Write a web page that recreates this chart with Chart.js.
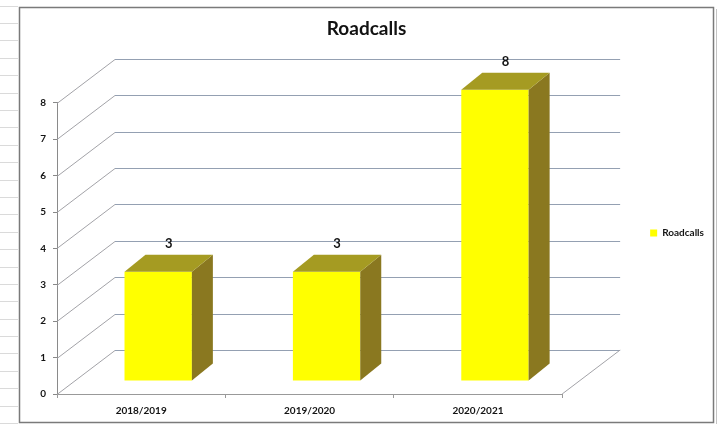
<!DOCTYPE html>
<html>
<head>
<meta charset="utf-8">
<script src="https://cdn.jsdelivr.net/npm/chart.js@4.4.0/dist/chart.umd.min.js"></script>
<style>
  html, body { margin: 0; padding: 0; background: #fff; }
  canvas { display: block; }
</style>
</head>
<body>
<canvas id="chart" width="720" height="425"></canvas>
<script>
const seasons = ['2018/2019', '2019/2020', '2020/2021'];
const roadcalls = [3, 3, 8];
const yTicks = [0, 1, 2, 3, 4, 5, 6, 7, 8];

// offset from the front plane to the back wall
const WALL_DX = 58, WALL_DY = -44;
// bars stand a little behind the front plane and have their own depth
const BAR_DX = 17, BAR_DY = -13;
const SIDE_DX = 21, SIDE_DY = -17;

const FONT = 'Lato';
const TEXT = '#141414';

const box3d = {
  id: 'box3d',
  beforeDraw(chart) {
    const ctx = chart.ctx;
    ctx.save();
    ctx.fillStyle = '#fff';
    ctx.fillRect(0, 0, chart.width, chart.height);
    // worksheet cell lines peeking out left of the chart
    ctx.strokeStyle = '#dadada';
    ctx.lineWidth = 1;
    for (let y = 5.5; y < chart.height; y += 17.4) {
      ctx.beginPath();
      ctx.moveTo(0, Math.round(y) + 0.5);
      ctx.lineTo(18, Math.round(y) + 0.5);
      ctx.stroke();
    }
    // chart frame
    ctx.strokeStyle = '#7a7a7a';
    ctx.lineWidth = 1.5;
    ctx.strokeRect(19.5, 7.5, 694, 415);
    ctx.strokeStyle = '#c4c4c4';
    ctx.lineWidth = 1;
    ctx.beginPath();
    ctx.moveTo(716.5, 9);
    ctx.lineTo(716.5, 424);
    ctx.stroke();
    ctx.restore();
  },
  beforeDatasetsDraw(chart) {
    const {ctx, chartArea: {left, right, bottom}, scales: {y}} = chart;
    ctx.save();
    ctx.lineWidth = 1;
    // side wall diagonals + back wall grid
    yTicks.forEach(v => {
      const py = Math.round(y.getPixelForValue(v)) + 0.5;
      ctx.strokeStyle = '#a3a3a8';
      ctx.beginPath();
      ctx.moveTo(left, py);
      ctx.lineTo(left + WALL_DX, py + WALL_DY);
      ctx.stroke();
      ctx.strokeStyle = '#94a0b2';
      ctx.beginPath();
      ctx.moveTo(left + WALL_DX, py + WALL_DY);
      ctx.lineTo(right + WALL_DX, py + WALL_DY);
      ctx.stroke();
    });
    // floor right edge
    ctx.strokeStyle = '#a3a3a8';
    ctx.beginPath();
    ctx.moveTo(right, bottom);
    ctx.lineTo(right + WALL_DX, bottom + WALL_DY);
    ctx.stroke();
    ctx.restore();
  },
  beforeDatasetDraw(chart) {
    chart.ctx.save();
    chart.ctx.translate(BAR_DX, BAR_DY);
  },
  afterDatasetDraw(chart, args) {
    const ctx = chart.ctx;
    args.meta.data.forEach(bar => {
      const {x, y, base, width} = bar.getProps(['x', 'y', 'base', 'width'], true);
      const l = x - width / 2, r = x + width / 2;
      // right side face
      ctx.fillStyle = '#8a7820';
      ctx.beginPath();
      ctx.moveTo(r, y);
      ctx.lineTo(r + SIDE_DX, y + SIDE_DY);
      ctx.lineTo(r + SIDE_DX, base + SIDE_DY);
      ctx.lineTo(r, base);
      ctx.closePath();
      ctx.fill();
      // top face
      ctx.fillStyle = '#a59b22';
      ctx.beginPath();
      ctx.moveTo(l, y);
      ctx.lineTo(r, y);
      ctx.lineTo(r + SIDE_DX, y + SIDE_DY);
      ctx.lineTo(l + SIDE_DX, y + SIDE_DY);
      ctx.closePath();
      ctx.fill();
    });
    ctx.restore();

    // value labels above each bar
    const values = chart.data.datasets[args.index].data;
    ctx.save();
    ctx.fillStyle = TEXT;
    ctx.font = `bold 13px ${FONT}`;
    ctx.textAlign = 'center';
    ctx.textBaseline = 'middle';
    args.meta.data.forEach((bar, i) => {
      const {x, y} = bar.getProps(['x', 'y'], true);
      ctx.fillText(String(values[i]), x + BAR_DX + SIDE_DX / 2, y + BAR_DY + SIDE_DY - 11);
    });
    ctx.restore();
  }
};

new Chart(document.getElementById('chart'), {
  type: 'bar',
  data: {
    labels: seasons,
    datasets: [{
      label: 'Roadcalls',
      data: roadcalls,
      backgroundColor: '#ffff00',
      borderWidth: 0,
      categoryPercentage: 1,
      barPercentage: 0.4,
      clip: false
    }]
  },
  plugins: [box3d],
  options: {
    responsive: false,
    animation: false,
    layout: {
      padding: { left: 19, top: 8, right: 6, bottom: 2 }
    },
    plugins: {
      legend: {
        position: 'right',
        labels: {
          color: TEXT,
          boxWidth: 7,
          boxHeight: 7,
          padding: 88,
          font: { family: FONT, size: 10, weight: 'bold' }
        },
        // empty title only pushes the key down to sit beside the plot's middle
        title: { display: true, text: '', font: { size: 10 }, padding: { top: 23, bottom: 0 } }
      },
      tooltip: { enabled: false },
      title: {
        display: true,
        text: 'Roadcalls',
        color: '#111',
        font: { family: FONT, size: 19, weight: 'bold' },
        padding: { top: 9, bottom: 63 }
      }
    },
    scales: {
      y: {
        min: 0,
        max: 8,
        afterBuildTicks: s => { s.ticks = yTicks.map(v => ({ value: v })); },
        afterFit: s => { s.width = 38; },
        ticks: {
          color: TEXT,
          padding: 7,
          font: { family: FONT, size: 10, weight: 'bold' }
        },
        grid: { drawOnChartArea: false, tickLength: 4, color: '#888' },
        border: { display: true, color: '#8a8a8a' }
      },
      x: {
        afterFit: s => { s.height = 29; },
        ticks: {
          color: TEXT,
          padding: 7,
          maxRotation: 0,
          font: { family: FONT, size: 10, weight: 'bold' }
        },
        grid: { drawOnChartArea: false, tickLength: 4, color: '#999' },
        border: { display: true, color: '#999' }
      }
    }
  }
});
</script>
</body>
</html>
